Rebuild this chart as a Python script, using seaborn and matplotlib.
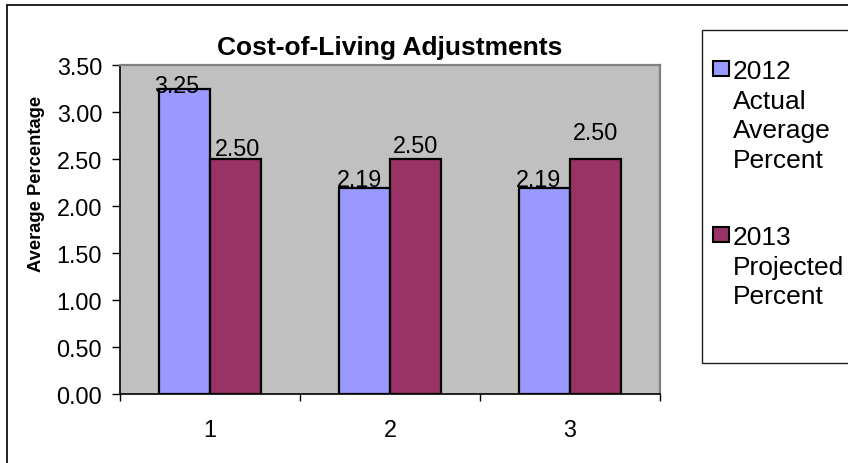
import matplotlib
matplotlib.use("Agg")
import matplotlib.pyplot as plt
from matplotlib.patches import Rectangle
from matplotlib.lines import Line2D
import seaborn as sns
import pandas as pd

# --- data ---
categories = ["1", "2", "3"]
series_names = ["2012\nActual\nAverage\nPercent", "2013\nProjected\nPercent"]
actual_2012 = [3.25, 2.19, 2.19]
projected_2013 = [2.50, 2.50, 2.50]
y_ticks = [0.0, 0.5, 1.0, 1.5, 2.0, 2.5, 3.0, 3.5]

colors = ["#9999FF", "#993366"]

df = pd.DataFrame({
    "category": categories * 2,
    "value": actual_2012 + projected_2013,
    "series": [series_names[0]] * 3 + [series_names[1]] * 3,
})

sns.set_theme(style="white")
plt.rcParams["font.family"] = ["Liberation Sans", "DejaVu Sans"]

W, H = 848, 464
fig = plt.figure(figsize=(W / 100, H / 100), dpi=100)
fig.patch.set_facecolor("white")


def fx(px):
    return px / W


def fy(py):
    return 1 - py / H


# plot area in pixels: left 120, right 660, top 66, bottom 395
ax = fig.add_axes([fx(120), fy(395), (660 - 120) / W, (395 - 66) / H])
ax.set_facecolor("#C0C0C0")

sns.barplot(
    data=df, x="category", y="value", hue="series", order=categories,
    hue_order=series_names, palette=colors, saturation=1, width=0.57,
    edgecolor="black", linewidth=1.6, errorbar=None, legend=False, ax=ax,
)

tick_fs = 16.8
ax.set_xlim(-0.5, 2.5)
ax.set_ylim(0, 3.5)
ax.set_yticks(y_ticks)
ax.set_yticklabels([f"{v:.2f}" for v in y_ticks])
ax.tick_params(axis="y", direction="out", length=5.8, width=1, color="black",
               pad=7, labelsize=tick_fs, labelcolor="black", left=True)
ax.set_xticks(range(len(categories)))
ax.set_xticklabels(categories)
ax.set_xticks([-0.5, 0.5, 1.5, 2.5], minor=True)
ax.tick_params(axis="x", which="major", length=0, pad=17, labelsize=tick_fs,
               labelcolor="black")
ax.tick_params(axis="x", which="minor", direction="out", length=5, width=1,
               color="black", bottom=True)
ax.set_xlabel("")
ax.set_ylabel("Average Percentage", fontsize=13.2, fontweight="bold",
              color="black")
ax.yaxis.set_label_coords((45 - 120) / 540, (395 - 184) / 329)
ax.set_title("Cost-of-Living Adjustments", fontsize=19, fontweight="bold",
             color="black", pad=8)

for side in ["left", "bottom"]:
    ax.spines[side].set_color("black")
    ax.spines[side].set_linewidth(1.2)
for side in ["top", "right"]:
    ax.spines[side].set_color("#808080")
    ax.spines[side].set_linewidth(1.6)
ax.grid(False)

# value labels, offsets in pixels (dx, dy above the bar top)
label_offsets = [
    [(-8, -3.5), (-5, 2), (-5.5, 2)],
    [(2, 4), (0, 6.5), (0, 20)],
]
for s, container in enumerate(ax.containers):
    for b, bar in enumerate(container):
        h = bar.get_height()
        cx = bar.get_x() + bar.get_width() / 2
        dx, dy = label_offsets[s][b]
        ax.annotate(f"{h:.2f}", xy=(cx, h), xytext=(dx * 0.72, dy * 0.72),
                    textcoords="offset points", ha="center", va="baseline",
                    fontsize=tick_fs, color="black", annotation_clip=False)

# outer chart border
fig.add_artist(Line2D([fx(7), fx(7)], [fy(6), fy(H + 5)], color="black",
                      lw=1.2, transform=fig.transFigure))
fig.add_artist(Line2D([fx(7), fx(W + 5)], [fy(6), fy(6)], color="black",
                      lw=1.2, transform=fig.transFigure))

# legend box
fig.add_artist(Rectangle((fx(702), fy(364)), (870 - 702) / W, (364 - 31) / H,
                         facecolor="white", edgecolor="#202020", lw=1,
                         transform=fig.transFigure))
legend_rows = [62, 228]
for top, name, col in zip(legend_rows, series_names, colors):
    fig.add_artist(Rectangle((fx(713), fy(top + 15)), 16 / W, 15 / H,
                             facecolor=col, edgecolor="black", lw=1.5,
                             transform=fig.transFigure))
    fig.text(fx(733), fy(top - 2), name, fontsize=19, color="black",
             ha="left", va="top", linespacing=1.3,
             transform=fig.transFigure)

fig.savefig("out.png", dpi=100)
